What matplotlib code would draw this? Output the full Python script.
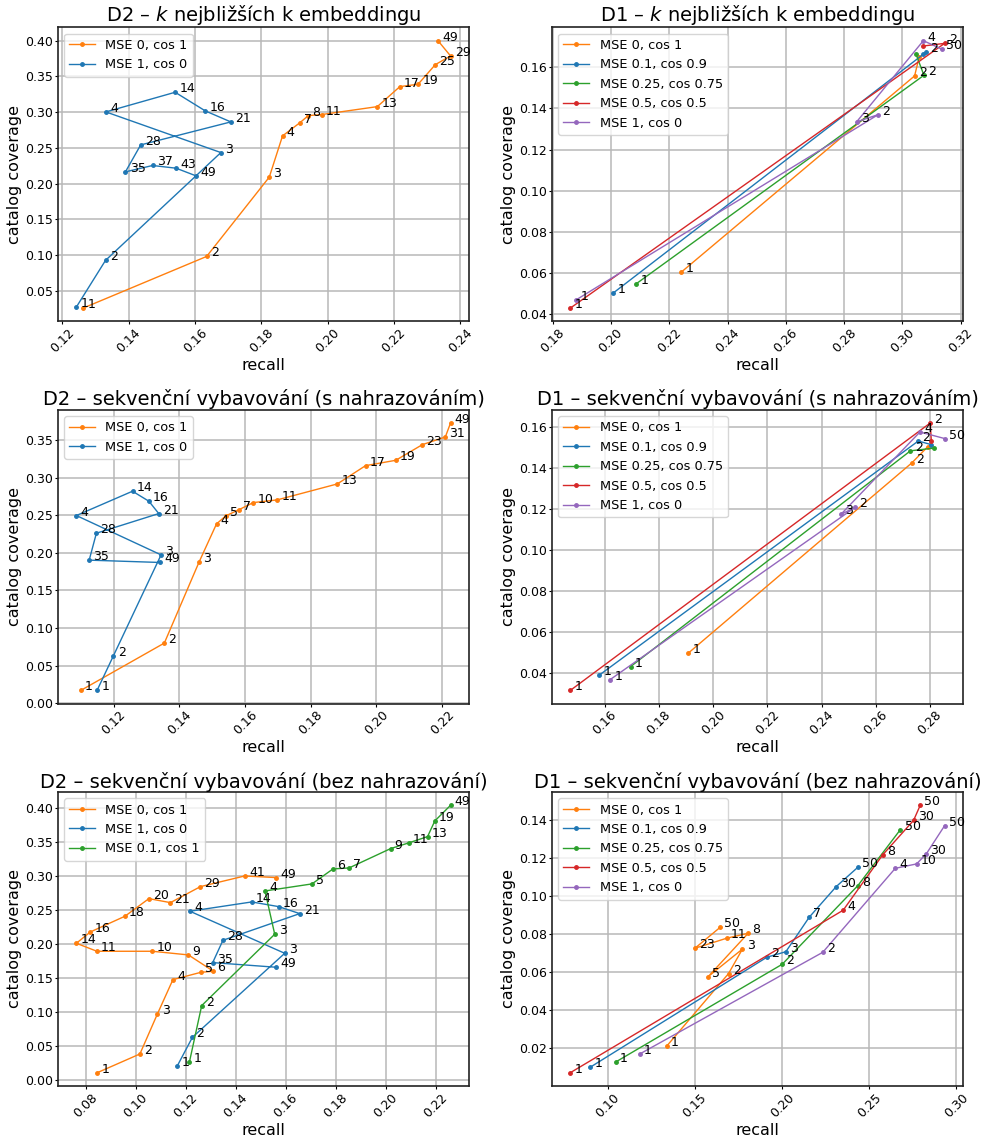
import numpy as np
import matplotlib
matplotlib.use('Agg')
import matplotlib.pyplot as plt

# --- D2, k nejblizsich ---
d2_knn_a_k = ['1', '2', '3', '4', '7', '8', '11', '13', '17', '19', '25', '29', '49']
d2_knn_a_x = [0.1263, 0.1635, 0.1824, 0.1864, 0.1917, 0.1942, 0.1982, 0.2150, 0.2218, 0.2273, 0.2325, 0.2371, 0.2333]
d2_knn_a_y = [0.0258, 0.0980, 0.2090, 0.2667, 0.2854, 0.2952, 0.2966, 0.3077, 0.3357, 0.3390, 0.3665, 0.3786, 0.4000]
d2_knn_b_k = ['1', '2', '3', '4', '14', '16', '21', '28', '35', '37', '43', '49']
d2_knn_b_x = [0.1242, 0.1330, 0.1678, 0.1331, 0.1540, 0.1631, 0.1708, 0.1436, 0.1390, 0.1472, 0.1543, 0.1603]
d2_knn_b_y = [0.0272, 0.0925, 0.2434, 0.3003, 0.3278, 0.3017, 0.2863, 0.2541, 0.2164, 0.2253, 0.2215, 0.2108]

# --- D1, k nejblizsich ---
d1_knn_k = [['1', '2', ''], ['1', '2', ''], ['1', '2', ''], ['1', '2', ''], ['1', '2', '3', '4', '50']]
d1_knn_x = [[0.2242, 0.3042, 0.3058],
            [0.2008, 0.3081, 0.3071],
            [0.2087, 0.3074, 0.3047],
            [0.1861, 0.3145, 0.3071],
            [0.1881, 0.2917, 0.2843, 0.3072, 0.3137]]
d1_knn_y = [[0.0606, 0.1558, 0.1652],
            [0.0504, 0.1673, 0.1663],
            [0.0549, 0.1561, 0.1663],
            [0.0431, 0.1716, 0.1703],
            [0.0471, 0.1370, 0.1335, 0.1729, 0.1687]]

# --- D2, sekvencni s nahrazovanim ---
d2_s_a_k = ['1', '2', '3', '4', '5', '7', '10', '11', '13', '17', '19', '23', '31', '49']
d2_s_a_x = [0.1100, 0.1354, 0.1460, 0.1513, 0.1541, 0.1580, 0.1625, 0.1698, 0.1881, 0.1967, 0.2059, 0.2140, 0.2210, 0.2226]
d2_s_a_y = [0.0173, 0.0801, 0.1880, 0.2385, 0.2491, 0.2571, 0.2668, 0.2704, 0.2916, 0.3159, 0.3230, 0.3438, 0.3540, 0.3726]
d2_s_b_k = ['1', '2', '3', '4', '14', '16', '21', '28', '35', '49']
d2_s_b_x = [0.1150, 0.1199, 0.1344, 0.1086, 0.1257, 0.1307, 0.1337, 0.1147, 0.1125, 0.1342]
d2_s_b_y = [0.0181, 0.0633, 0.1973, 0.2496, 0.2819, 0.2686, 0.2522, 0.2261, 0.1903, 0.1872]

# --- D1, sekvencni s nahrazovanim ---
d1_s_k = [['1', '2', ''], ['1', '2', ''], ['1', '2', ''], ['1', '2', ''], ['1', '2', '3', '4', '50']]
d1_s_x = [[0.1908, 0.2733, 0.2791],
          [0.1580, 0.2757, 0.2805],
          [0.1696, 0.2728, 0.2813],
          [0.1474, 0.2801, 0.2805],
          [0.1620, 0.2525, 0.2471, 0.2763, 0.2854]]
d1_s_y = [[0.0496, 0.1426, 0.1504],
          [0.0389, 0.1533, 0.1515],
          [0.0431, 0.1485, 0.1498],
          [0.0315, 0.1621, 0.1532],
          [0.0367, 0.1210, 0.1174, 0.1577, 0.1545]]

# --- D2, sekvencni bez nahrazovani ---
d2_b_a_k = ['1', '2', '3', '4', '5', '6', '9', '10', '11', '14', '16', '18', '20', '21', '29', '41', '49']
d2_b_a_x = [0.0847, 0.1017, 0.1087, 0.1149, 0.1261, 0.1311, 0.1211, 0.1067, 0.0845, 0.0763, 0.0819, 0.0957, 0.1053, 0.1139, 0.1259, 0.1436, 0.1563]
d2_b_a_y = [0.0103, 0.0378, 0.0968, 0.1474, 0.1582, 0.1597, 0.1838, 0.1892, 0.1892, 0.2010, 0.2177, 0.2408, 0.2668, 0.2609, 0.2845, 0.3002, 0.2978]
d2_b_b_k = ['1', '2', '3', '4', '14', '16', '21', '28', '35', '49']
d2_b_b_x = [0.1167, 0.1227, 0.1596, 0.1217, 0.1464, 0.1572, 0.1656, 0.1349, 0.1308, 0.1563]
d2_b_b_y = [0.0206, 0.0624, 0.1862, 0.2482, 0.2619, 0.2550, 0.2447, 0.2054, 0.1725, 0.1656]
d2_b_c_k = ['1', '2', '3', '4', '5', '6', '7', '9', '11', '13', '19', '49']
d2_b_c_x = [0.1215, 0.1264, 0.1556, 0.1517, 0.1705, 0.1789, 0.1853, 0.2019, 0.2091, 0.2167, 0.2196, 0.2259]
d2_b_c_y = [0.0260, 0.1091, 0.2143, 0.2781, 0.2885, 0.3106, 0.3120, 0.3405, 0.3489, 0.3582, 0.3813, 0.4044]

# --- D1, sekvencni bez nahrazovani ---
d1_b_k = [['1', '2', '3', '5', '8', '11', '23', '50'],
          ['1', '2', '3', '7', '30', '50'],
          ['1', '2', '8', '50'],
          ['1', '4', '8', '30', '50'],
          ['1', '2', '4', '10', '30', '50']]
d1_b_x = [[0.1339, 0.1693, 0.1773, 0.1576, 0.1806, 0.1683, 0.1500, 0.1645],
          [0.0899, 0.1913, 0.2022, 0.2156, 0.2311, 0.2437],
          [0.1046, 0.2001, 0.2435, 0.2679],
          [0.0786, 0.2351, 0.2577, 0.2755, 0.2793],
          [0.1184, 0.2234, 0.2650, 0.2772, 0.2828, 0.2933]]
d1_b_y = [[0.0211, 0.0591, 0.0720, 0.0575, 0.0803, 0.0777, 0.0724, 0.0834],
          [0.0099, 0.0677, 0.0706, 0.0887, 0.1048, 0.1151],
          [0.0127, 0.0640, 0.1053, 0.1347],
          [0.0071, 0.0924, 0.1214, 0.1396, 0.1475],
          [0.0169, 0.0703, 0.1144, 0.1167, 0.1220, 0.1368]]

d1_names = ['MSE 0, cos 1', 'MSE 0.1, cos 0.9', 'MSE 0.25, cos 0.75', 'MSE 0.5, cos 0.5', 'MSE 1, cos 0']
d1_colors = ['tab:orange', 'tab:blue', 'tab:green', 'tab:red', 'tab:purple']

titles = ['D2 – $k$ nejbližších k embeddingu', 'D1 – $k$ nejbližších k embeddingu',
          'D2 – sekvenční vybavování (s nahrazováním)', 'D1 – sekvenční vybavování (s nahrazováním)',
          'D2 – sekvenční vybavování (bez nahrazování)', 'D1 – sekvenční vybavování (bez nahrazování)']

panels = [
    [('MSE 0, cos 1', 'tab:orange', d2_knn_a_k, d2_knn_a_x, d2_knn_a_y),
     ('MSE 1, cos 0', 'tab:blue', d2_knn_b_k, d2_knn_b_x, d2_knn_b_y)],
    list(zip(d1_names, d1_colors, d1_knn_k, d1_knn_x, d1_knn_y)),
    [('MSE 0, cos 1', 'tab:orange', d2_s_a_k, d2_s_a_x, d2_s_a_y),
     ('MSE 1, cos 0', 'tab:blue', d2_s_b_k, d2_s_b_x, d2_s_b_y)],
    list(zip(d1_names, d1_colors, d1_s_k, d1_s_x, d1_s_y)),
    [('MSE 0, cos 1', 'tab:orange', d2_b_a_k, d2_b_a_x, d2_b_a_y),
     ('MSE 1, cos 0', 'tab:blue', d2_b_b_k, d2_b_b_x, d2_b_b_y),
     ('MSE 0.1, cos 1', 'tab:green', d2_b_c_k, d2_b_c_x, d2_b_c_y)],
    list(zip(d1_names, d1_colors, d1_b_k, d1_b_x, d1_b_y)),
]

fig, axes = plt.subplots(3, 2, figsize=(9.84, 11.38), dpi=100)
plt.subplots_adjust(left=0.0586, right=0.979, bottom=0.0457, top=0.976, wspace=0.2003, hspace=0.300)

for ax, title, series in zip(axes.flat, titles, panels):
    for name, col, ks, xs, ys in series:
        ax.plot(xs, ys, marker='.', markersize=5, linewidth=1, color=col, label=name)
        for k, x, y in zip(ks, xs, ys):
            if k:
                ax.annotate(k, (x, y), xytext=(3, 0), textcoords='offset points', fontsize=9)
    ax.set_title(title, fontsize=14, pad=3)
    ax.set_xlabel('recall', fontsize=11.5, labelpad=2)
    ax.set_ylabel('catalog coverage', fontsize=11.5, labelpad=2)
    ax.grid(True, color='#b8b8b8', linewidth=1.1)
    ax.tick_params(labelsize=9, length=2, pad=1.5)
    ax.tick_params(axis='x', labelrotation=45)
    for s in ax.spines.values():
        s.set_linewidth(1.2)
        s.set_color('#222222')
    ax.legend(loc='upper left', fontsize=9.3)

fig.savefig('out.png', dpi=100)
